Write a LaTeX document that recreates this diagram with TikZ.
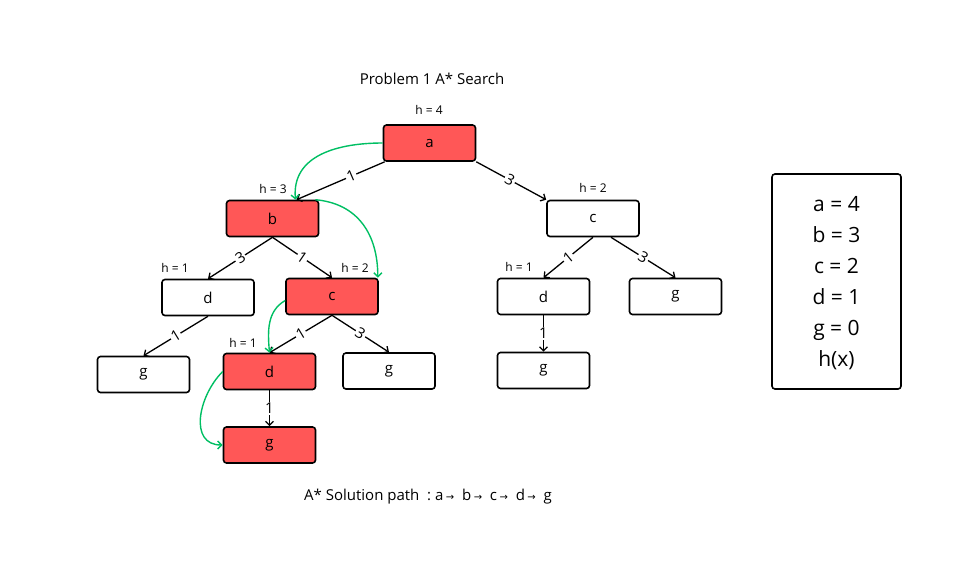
\documentclass[tikz,border=0pt]{standalone}
\usepackage{fontspec}
\setmainfont{Open Sans}
\newfontfamily\symfont{DejaVu Sans}
\usetikzlibrary{arrows.meta}
\definecolor{nodered}{HTML}{FF5757}
\definecolor{pathgreen}{HTML}{00BF63}
\newcommand{\patharrow}{\,{\symfont\fontsize{10}{10}\selectfont →}\ \ }

\begin{document}
\begin{tikzpicture}[x=1pt,y=-1pt,
  box/.style={draw, rounded corners=3pt, line width=1.6pt, minimum width=92pt,
    minimum height=36pt, inner sep=0pt, font=\fontsize{15}{17}\selectfont},
  visited/.style={box, fill=nodered},
  edge/.style={line width=1.3pt, -{Straight Barb[length=4pt,width=8pt]}},
  wlabel/.style={sloped, fill=white, inner sep=1.2pt, font=\fontsize{15}{16}\selectfont},
  vlabel/.style={fill=white, inner sep=1.2pt, font=\fontsize{15}{16}\selectfont},
  hlabel/.style={font=\fontsize{12}{13}\selectfont},
  trace/.style={pathgreen, line width=1.4pt, -{Straight Barb[length=4pt,width=8pt]}}]

\path[use as bounding box] (0,0) rectangle (966,568);

% title
\node[font=\fontsize{15}{17}\selectfont] (title) at (432,79) {Problem 1 A* Search};

% search tree
\node[visited] (a)  at (429.5,143)   {a};
\node[visited] (b)  at (272.5,218.5) {b};
\node[box]     (c1) at (593,218.5)   {c};
\node[box]     (d1) at (208,297.5)   {d};
\node[visited] (c2) at (332,296.5)   {c};
\node[box]     (d3) at (543.5,296.5) {d};
\node[box]     (g4) at (675.5,296.5) {g};
\node[box]     (g1) at (143.5,374.5) {g};
\node[visited] (d2) at (269.5,371.5) {d};
\node[box]     (g2) at (389,371)     {g};
\node[box]     (g5) at (543.5,370.5) {g};
\node[visited] (g3) at (269.5,445)   {g};

% heuristic values
\node[hlabel] (ha)  at (429,110)   {h = 4};
\node[hlabel] (hb)  at (273,189)   {h = 3};
\node[hlabel] (hc1) at (593,188)   {h = 2};
\node[hlabel] (hd1) at (175,268)   {h = 1};
\node[hlabel] (hc2) at (355,268)   {h = 2};
\node[hlabel] (hd3) at (519,267)   {h = 1};
\node[hlabel] (hd2) at (243,343)   {h = 1};

% weighted edges
\draw[edge] ([xshift=2pt]a.south west) -- node[wlabel, pos=0.38] {1} ([xshift=24pt]b.north);
\draw[edge] (a.south east) -- node[wlabel, pos=0.48] {3} (c1.north west);
\draw[edge] (b.south) -- node[wlabel] {3} (d1.north);
\draw[edge] (b.south) -- node[wlabel] {1} (c2.north);
\draw[edge] (d1.south) -- node[wlabel] {1} (g1.north);
\draw[edge] (c2.south) -- node[wlabel] {1} (d2.north);
\draw[edge] (c2.south) -- node[wlabel] {3} (g2.north);
\draw[edge] (d2.south) -- node[vlabel] {1} (g3.north);
\draw[edge] (c1.south) -- node[wlabel] {1} (d3.north);
\draw[edge] ([xshift=18pt]c1.south) -- node[wlabel] {3} (g4.north);
\draw[edge] (d3.south) -- node[vlabel] {1} (g5.north);

% expansion order
\draw[trace] (a.west) to[out=180, in=95, looseness=1.1] ([xshift=23pt]b.north);
\draw[trace] ([xshift=-4pt]b.north east) to[out=-5, in=90, looseness=1.1] ([xshift=-1pt]c2.north east);
\draw[trace] ([yshift=-4pt]c2.west) to[out=210, in=95] (d2.north);
\draw[trace] (d2.west) to[out=225, in=180, looseness=1.2] (g3.west);

% legend
\node[draw, rounded corners=3pt, line width=1.6pt, minimum width=129pt,
  minimum height=215pt, inner sep=0pt] (legend) at (836.5,281.5) {};
\node[font=\fontsize{21}{31}\selectfont, align=center] (legendtext) at (836.5,283)
  {a = 4\\b = 3\\c = 2\\d = 1\\g = 0\\h(x)};

% solution
\node[font=\fontsize{15}{17}\selectfont] (solution) at (428,497)
  {A* Solution path\ \ :\ a\patharrow b\patharrow c\patharrow d\patharrow g};
\end{tikzpicture}
\end{document}
